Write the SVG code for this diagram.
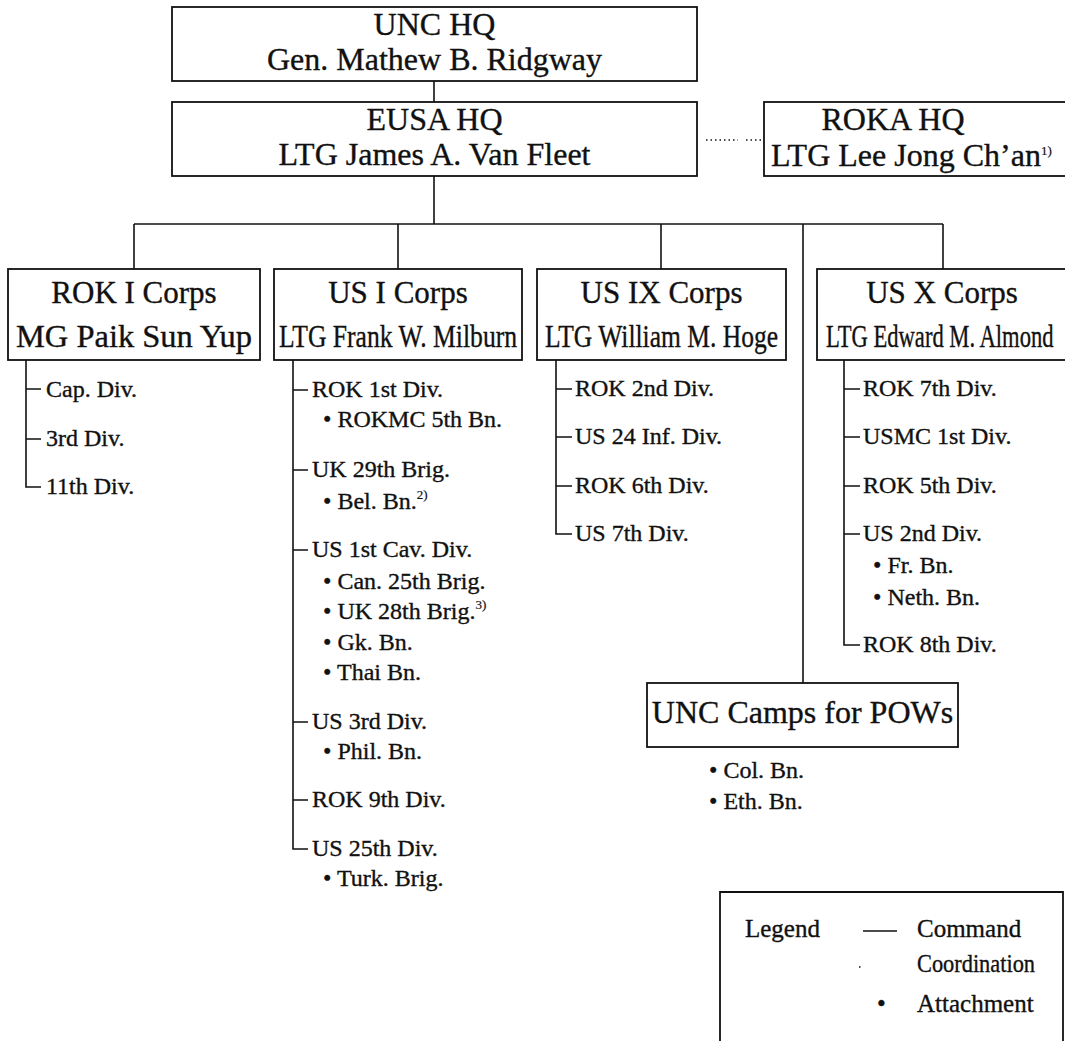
<svg xmlns="http://www.w3.org/2000/svg" width="1065" height="1041" viewBox="0 0 1065 1041">
<style>
text{font-family:"Liberation Serif","Times New Roman",serif;fill:#111;stroke:#111;stroke-width:0.35}
.hq{font-size:32px;text-anchor:middle}
.ct{font-size:31px;text-anchor:middle}
.it{font-size:24px}
.lg{font-size:25px}
.sup{font-size:13px;stroke-width:0.2}
.box{fill:#fff;stroke:#111;stroke-width:1.8}
.ln{fill:none;stroke:#111;stroke-width:1.6}
.dot{fill:none;stroke:#111;stroke-width:1.3;stroke-dasharray:1.5 3}
</style>
<rect width="1065" height="1041" fill="#fff"/>
<g id="connectors">
<line class="ln" x1="434" y1="81" x2="434" y2="102"/>
<line class="ln" x1="434" y1="176" x2="434" y2="224"/>
<line class="ln" x1="134" y1="224" x2="943" y2="224"/>
<line class="ln" x1="134" y1="224" x2="134" y2="269"/>
<line class="ln" x1="398" y1="224" x2="398" y2="269"/>
<line class="ln" x1="661" y1="224" x2="661" y2="269"/>
<line class="ln" x1="943" y1="224" x2="943" y2="269"/>
<line class="ln" x1="803" y1="224" x2="803" y2="683"/>
<line class="dot" x1="706" y1="140" x2="738" y2="140"/>
<line class="dot" x1="746" y1="140" x2="762" y2="140"/>
<path class="ln" d="M26 360V487H41M26 389H41M26 439H41"/>
<path class="ln" d="M293 360V849H308M293 390H308M293 470H308M293 550H308M293 722H308M293 800H308"/>
<path class="ln" d="M556 360V534H572M556 389H572M556 437H572M556 486H572"/>
<path class="ln" d="M844 360V645H860M844 389H860M844 437H860M844 486H860M844 534H860"/>
</g>
<g id="unc-hq">
<rect class="box" x="172" y="7" width="525" height="74"/>
<text class="hq" x="434.5" y="35">UNC HQ</text>
<text class="hq" x="434.5" y="70">Gen. Mathew B. Ridgway</text>
</g>
<g id="eusa-hq">
<rect class="box" x="172" y="102" width="525" height="74"/>
<text class="hq" x="434.5" y="130">EUSA HQ</text>
<text class="hq" x="434.5" y="165">LTG James A. Van Fleet</text>
</g>
<g id="roka-hq">
<rect class="box" x="764" y="102" width="310" height="74"/>
<text class="hq" x="893" y="130">ROKA HQ</text>
<text style="font-size:32px" x="771" y="166">LTG Lee Jong Ch’an<tspan class="sup" dy="-11">1)</tspan></text>
</g>
<g id="rok-i-corps">
<rect class="box" x="8" y="269" width="252" height="91"/>
<text class="ct" x="134" y="303">ROK I Corps</text>
<text class="ct" x="134" y="347" textLength="236" lengthAdjust="spacingAndGlyphs">MG Paik Sun Yup</text>
<text class="it" x="46" y="397">Cap. Div.</text>
<text class="it" x="46" y="446">3rd Div.</text>
<text class="it" x="46" y="494">11th Div.</text>
</g>
<g id="us-i-corps">
<rect class="box" x="274" y="269" width="248" height="91"/>
<text class="ct" x="398" y="303">US I Corps</text>
<text class="ct" x="398" y="347" textLength="238" lengthAdjust="spacingAndGlyphs">LTG Frank W. Milburn</text>
<text class="it" x="312" y="397">ROK 1st Div.</text>
<text class="it" x="323" y="427">• ROKMC 5th Bn.</text>
<text class="it" x="312" y="477">UK 29th Brig.</text>
<text class="it" x="323" y="509">• Bel. Bn.<tspan class="sup" dy="-10">2)</tspan></text>
<text class="it" x="312" y="557">US 1st Cav. Div.</text>
<text class="it" x="323" y="589">• Can. 25th Brig.</text>
<text class="it" x="323" y="619">• UK 28th Brig.<tspan class="sup" dy="-10">3)</tspan></text>
<text class="it" x="323" y="650">• Gk. Bn.</text>
<text class="it" x="323" y="680">• Thai Bn.</text>
<text class="it" x="312" y="729">US 3rd Div.</text>
<text class="it" x="323" y="759">• Phil. Bn.</text>
<text class="it" x="312" y="807">ROK 9th Div.</text>
<text class="it" x="312" y="856">US 25th Div.</text>
<text class="it" x="323" y="886">• Turk. Brig.</text>
</g>
<g id="us-ix-corps">
<rect class="box" x="537" y="269" width="249" height="91"/>
<text class="ct" x="661.5" y="303">US IX Corps</text>
<text class="ct" x="661.5" y="347" textLength="233" lengthAdjust="spacingAndGlyphs">LTG William M. Hoge</text>
<text class="it" x="575" y="396">ROK 2nd Div.</text>
<text class="it" x="575" y="444">US 24 Inf. Div.</text>
<text class="it" x="575" y="493">ROK 6th Div.</text>
<text class="it" x="575" y="541">US 7th Div.</text>
</g>
<g id="us-x-corps">
<rect class="box" x="817" y="269" width="260" height="91"/>
<text class="ct" x="942" y="303">US X Corps</text>
<text style="font-size:31px" transform="translate(826 347) scale(0.729 1)">LTG Edward M. Almond</text>
<text class="it" x="863" y="396">ROK 7th Div.</text>
<text class="it" x="863" y="444">USMC 1st Div.</text>
<text class="it" x="863" y="493">ROK 5th Div.</text>
<text class="it" x="863" y="541">US 2nd Div.</text>
<text class="it" x="873" y="573">• Fr. Bn.</text>
<text class="it" x="873" y="605">• Neth. Bn.</text>
<text class="it" x="863" y="652">ROK 8th Div.</text>
</g>
<g id="unc-camps-pows">
<rect class="box" x="647" y="683" width="311" height="64"/>
<text class="ct" x="802.5" y="723" style="font-size:32px">UNC Camps for POWs</text>
<text class="it" x="709" y="778">• Col. Bn.</text>
<text class="it" x="709" y="809">• Eth. Bn.</text>
</g>
<g id="legend">
<path class="box" d="M720 1045V892H1063V1045" style="fill:none"/>
<text class="lg" x="745" y="937">Legend</text>
<line class="ln" x1="863" y1="931" x2="897" y2="931"/>
<text class="lg" x="917" y="937">Command</text>
<line class="dot" x1="859" y1="967" x2="862" y2="967"/>
<text class="lg" x="917" y="972" textLength="118" lengthAdjust="spacingAndGlyphs">Coordination</text>
<text class="lg" x="877" y="1012">•</text>
<text class="lg" x="917" y="1012">Attachment</text>
</g>
</svg>
